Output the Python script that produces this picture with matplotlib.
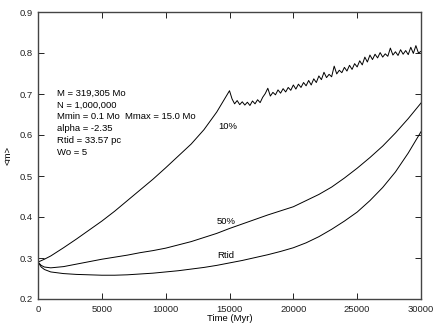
import matplotlib
matplotlib.use("Agg")
import matplotlib.pyplot as plt

plt.rcParams['font.family'] = ['Liberation Sans', 'DejaVu Sans']

# 10% Lagrangian radius mean mass
t10 = [0, 500, 1000, 2000, 3000, 4000, 5000, 6000, 7000, 8000, 9000, 10000,
       11000, 12000, 13000, 14000, 14500, 15000,
       15200, 15400, 15600, 15800, 16000, 16200, 16400, 16600, 16800, 17000,
       17200, 17400, 17600, 17800, 18000, 18200, 18400, 18600, 18800, 19000,
       19200, 19400, 19600, 19800, 20000, 20200, 20400, 20600, 20800, 21000,
       21200, 21400, 21600, 21800, 22000, 22200, 22400, 22600, 22800, 23000,
       23200, 23400, 23600, 23800, 24000, 24200, 24400, 24600, 24800, 25000,
       25200, 25400, 25600, 25800, 26000, 26200, 26400, 26600, 26800, 27000,
       27200, 27400, 27600, 27800, 28000, 28200, 28400, 28600, 28800, 29000,
       29200, 29400, 29600, 29800, 30000]
m10 = [0.290, 0.297, 0.305, 0.325, 0.346, 0.368, 0.390, 0.414, 0.440, 0.466,
       0.492, 0.520, 0.549, 0.578, 0.613, 0.656, 0.682, 0.708,
       0.688, 0.676, 0.684, 0.674, 0.681, 0.673, 0.680, 0.672, 0.683, 0.676,
       0.686, 0.679, 0.692, 0.701, 0.714, 0.695, 0.704, 0.698, 0.710, 0.702,
       0.713, 0.705, 0.716, 0.709, 0.722, 0.712, 0.724, 0.716, 0.728, 0.720,
       0.733, 0.722, 0.737, 0.728, 0.744, 0.735, 0.753, 0.740, 0.748, 0.742,
       0.768, 0.749, 0.758, 0.752, 0.765, 0.756, 0.770, 0.760, 0.774, 0.766,
       0.781, 0.771, 0.790, 0.778, 0.795, 0.784, 0.797, 0.788, 0.801, 0.790,
       0.798, 0.792, 0.812, 0.795, 0.803, 0.794, 0.808, 0.797, 0.806, 0.796,
       0.814, 0.799, 0.818, 0.800, 0.804]

t_smooth = [0, 250, 500, 1000, 2000, 3000, 4000, 5000, 6000, 7000, 8000, 9000,
            10000, 11000, 12000, 13000, 14000, 15000, 16000, 17000, 18000,
            19000, 20000, 21000, 22000, 23000, 24000, 25000, 26000, 27000,
            28000, 29000, 30000]
m50 = [0.290, 0.282, 0.278, 0.276, 0.279, 0.285, 0.291, 0.297, 0.302, 0.307,
       0.313, 0.318, 0.324, 0.332, 0.340, 0.350, 0.360, 0.372, 0.383, 0.394,
       0.405, 0.415, 0.425, 0.440, 0.455, 0.473, 0.495, 0.519, 0.545, 0.573,
       0.605, 0.640, 0.678]
mrtid = [0.290, 0.278, 0.272, 0.266, 0.262, 0.260, 0.259, 0.258, 0.258, 0.259,
         0.261, 0.263, 0.266, 0.269, 0.273, 0.277, 0.282, 0.288, 0.294, 0.301,
         0.308, 0.316, 0.325, 0.337, 0.352, 0.370, 0.390, 0.412, 0.440, 0.472,
         0.510, 0.556, 0.608]

curve_labels = ["10%", "50%", "Rtid"]
info_lines = ["M = 319,305 Mo", "N = 1,000,000", "Mmin = 0.1 Mo  Mmax = 15.0 Mo",
              "alpha = -2.35", "Rtid = 33.57 pc", "Wo = 5"]
xticks = [0, 5000, 10000, 15000, 20000, 25000, 30000]
yticks = [0.2, 0.3, 0.4, 0.5, 0.6, 0.7, 0.8, 0.9]

fs = 6.8
fig = plt.figure(figsize=(4.36, 3.27), dpi=100)
ax = fig.add_axes([38/436, 28/327, 383/436, 287/327])

lw = 0.7
ax.plot(t10, m10, color='black', lw=lw)
ax.plot(t_smooth, m50, color='black', lw=lw)
ax.plot(t_smooth, mrtid, color='black', lw=lw)

ax.set_xlim(0, 30000)
ax.set_ylim(0.2, 0.9)
ax.set_xticks(xticks)
ax.set_xticklabels([str(v) for v in xticks])
ax.set_yticks(yticks)
ax.set_yticklabels([f"{v:.1f}" for v in yticks])
ax.tick_params(direction='in', length=4, width=0.7, top=True, right=True,
               labelsize=fs, pad=4, colors='#222222')
for s in ax.spines.values():
    s.set_color('#444444')
    s.set_linewidth(1.0)

ax.set_xlabel("Time (Myr)", fontsize=fs, labelpad=0)
ax.set_ylabel("<m>", fontsize=fs, labelpad=5)

lab_pos = [(14100, 0.62), (14030, 0.388), (14030, 0.305)]
for lab, (x, y) in zip(curve_labels, lab_pos):
    ax.text(x, y, lab, fontsize=fs, va='center', ha='left')

y0 = 0.702
for i, line in enumerate(info_lines):
    ax.text(1500, y0 - i * 0.029, line, fontsize=fs, va='center', ha='left')

fig.savefig("out.png", dpi=100)
